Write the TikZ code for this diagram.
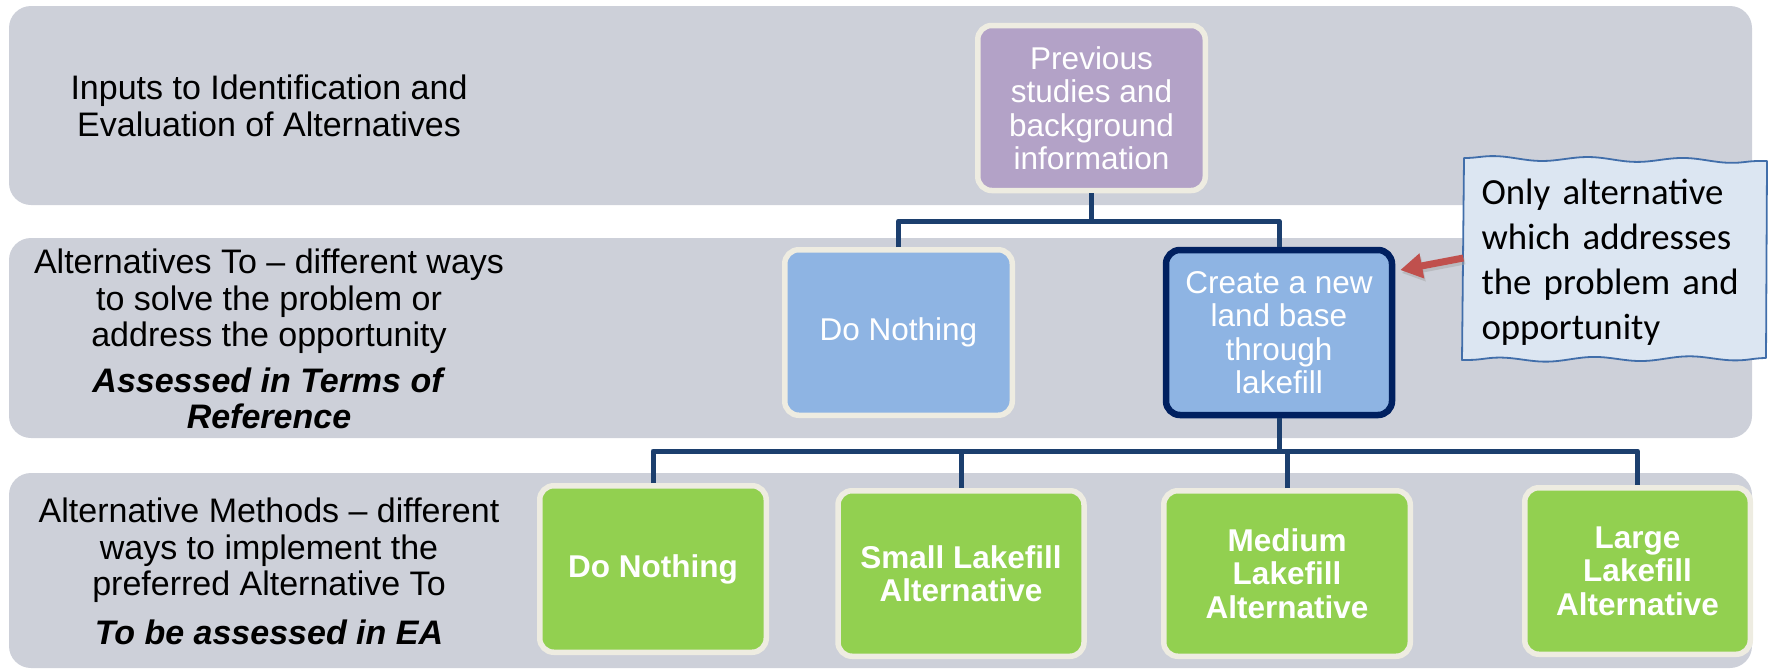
\documentclass[tikz,border=0pt]{standalone}
\usepackage{fontspec}
\setmainfont{Liberation Sans}
\newfontfamily\calibri{Carlito}
\usetikzlibrary{arrows.meta,decorations.pathmorphing}
\definecolor{band}{RGB}{205,208,217}
\definecolor{purp}{RGB}{179,162,199}
\definecolor{bluebox}{RGB}{142,180,227}
\definecolor{greenbox}{RGB}{146,208,80}
\definecolor{cream}{RGB}{238,236,225}
\definecolor{navy}{RGB}{28,63,110}
\definecolor{darknavy}{RGB}{0,32,96}
\definecolor{callfill}{RGB}{220,230,242}
\definecolor{callline}{RGB}{65,110,170}
\definecolor{redarr}{RGB}{192,80,77}
\tikzset{
  bandbox/.style={fill=band, draw=none, rounded corners=22pt},
  box/.style={rounded corners=14pt, line width=5.5pt, draw=cream, text=white, align=center, inner sep=0pt,
    font=\fontsize{31.5}{33.5}\selectfont},
  purplebox/.style={box, fill=purp},
  bluenode/.style={box, fill=bluebox},
  greennode/.style={box, fill=greenbox, font=\bfseries\fontsize{31.5}{33.5}\selectfont},
  conn/.style={draw=navy, line width=5pt, line join=round},
  sidelabel/.style={align=center, inner sep=0pt, anchor=north, font=\fontsize{34}{36.5}\selectfont},
  sz/.style 2 args={minimum width=#1, minimum height=#2},
  wave/.style={decoration={snake, amplitude=2.2pt, segment length=95pt}},
}
\begin{document}
\begin{tikzpicture}[x=1pt, y=-1pt]
\useasboundingbox (0,0) rectangle (1769,670);
% bands
\fill[bandbox] (9,6) rectangle (1752,205);
\fill[bandbox] (9,238) rectangle (1752,438);
\fill[bandbox] (9,473) rectangle (1752,668);
% side labels
\node[sidelabel] (lab1) at (269,75) {Inputs to Identification and\\Evaluation of Alternatives};
\node[sidelabel] (lab2) at (269,249) {Alternatives To – different ways\\to solve the problem or\\address the opportunity\\[9pt]\textbf{\textit{Assessed in Terms of}}\\\textbf{\textit{Reference}}};
\node[sidelabel] (lab3) at (269,498) {Alternative Methods – different\\ways to implement the\\preferred Alternative To\\[12pt]\textbf{\textit{To be assessed in EA}}};
% boxes
\node[purplebox, sz={227.5}{165}] (prev) at (1091.5,108) {Previous\\studies and\\background\\information};
\node[bluenode, sz={227.5}{165.5}] (dn1) at (898.5,332.5) {Do Nothing};
\node[bluenode, draw=darknavy, line width=6.5pt, sz={226}{165}] (create) at (1279,332.5) {Create a new\\land base\\through\\lakefill};
\node[greennode, sz={226.5}{166.5}] (dn2) at (653,569) {Do Nothing};
\node[greennode, sz={246}{165.5}] (small) at (961,573.5) {Small Lakefill\\Alternative};
\node[greennode, sz={246.5}{165.5}] (medium) at (1287,573.5) {Medium\\Lakefill\\Alternative};
\node[greennode, sz={225.5}{166.5}] (large) at (1637.5,571) {Large\\Lakefill\\Alternative};
% connectors
\coordinate (b1) at (0,221);
\coordinate (b2) at (0,451);
\draw[conn] (prev.south) -- (prev.south |- b1);
\draw[conn] (dn1.north) -- (dn1.north |- b1) -- (create.north |- b1) -- (create.north);
\draw[conn] (create.south) -- (create.south |- b2);
\draw[conn] (dn2.north) -- (dn2.north |- b2) -- (large.north |- b2) -- (large.north);
\draw[conn] (small.north) -- (small.north |- b2);
\draw[conn] (medium.north) -- (medium.north |- b2);
% callout
\draw[fill=callfill, draw=callline, line width=1.8pt, line join=round]
  (1464,158) decorate[wave] {-- (1767,161)} -- (1766,358)
  decorate[wave] {-- (1462,360)} -- cycle;
\node[font=\calibri\fontsize{36.8}{45}\selectfont, text width=267pt, align=left,
      inner xsep=18pt, inner ysep=0pt, minimum height=200pt] (callout) at (1615,262)
  {Only alternative\\which addresses\\the problem and\\opportunity};
\draw[black!35, opacity=0.5, line width=7pt, -{Triangle[length=22pt,width=24pt]}]
  ([shift={(1.5,3)}]callout.west |- 0,258) -- ([shift={(6.5,-59.5)}]create.east);
\draw[redarr, line width=7pt, -{Triangle[length=22pt,width=24pt]}]
  (callout.west |- 0,258) -- ([shift={(5,-62.5)}]create.east);
\end{tikzpicture}
\end{document}
